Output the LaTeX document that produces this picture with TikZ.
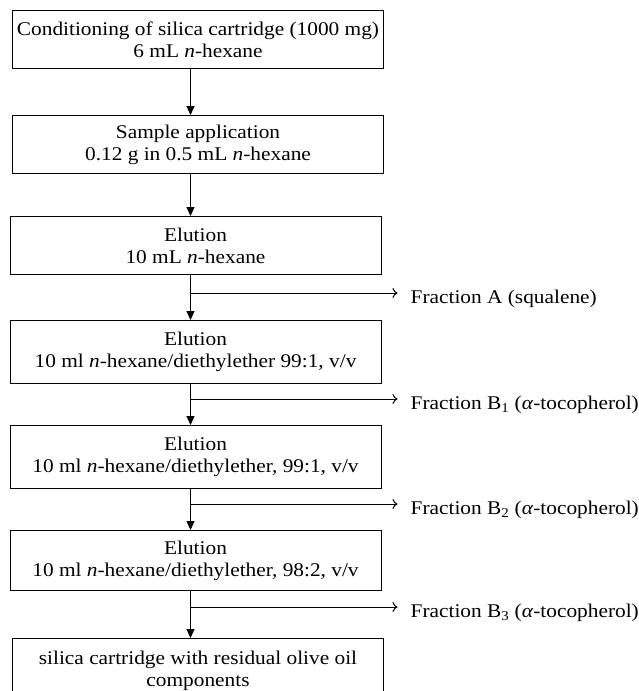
\documentclass[tikz,border=0pt]{standalone}
\usepackage{fontspec}
\setmainfont{Liberation Serif}[FakeStretch=1.1]
\usetikzlibrary{arrows.meta,positioning}

\begin{document}
\begin{tikzpicture}[
  every node/.style={font=\fontsize{19.4}{22}\selectfont},
  box/.style ={draw, line width=1pt, minimum width=371pt, minimum height=58pt,
               align=center, inner sep=0pt},
  tall/.style={box, minimum height=63pt},
  ar/.style  ={-{Triangle[length=9pt,width=8pt]}, line width=1pt},
  br/.style  ={-{Computer Modern Rightarrow[length=5pt,width=10pt]}, line width=1pt},
  fr/.style  ={anchor=base west, inner sep=0pt}
]
  \useasboundingbox (0,0) rectangle (638pt,-691pt);
  \coordinate (trunk) at (190.5pt,0);
  \node[box, anchor=north west] (cond) at (12pt,-10pt)
    {Conditioning of silica cartridge (1000 mg)\\6 mL \textit{n}-hexane};
  \node[box, below=46pt of cond] (samp)
    {Sample application\\0.12 g in 0.5 mL \textit{n}-hexane};
  \node[box, below=42pt of samp, xshift=-2.5pt] (el1)
    {Elution\\10 mL \textit{n}-hexane};
  \node[tall, below=45pt of el1] (el2)
    {Elution\\10 ml \textit{n}-hexane/diethylether 99:1, v/v};
  \node[tall, below=41pt of el2] (el3)
    {Elution\\10 ml \textit{n}-hexane/diethylether, 99:1, v/v};
  \node[box, minimum height=60pt, below=41pt of el3] (el4)
    {Elution\\10 ml \textit{n}-hexane/diethylether, 98:2, v/v};
  \node[box, minimum height=64pt, below=47pt of el4, xshift=2.5pt] (rest)
    {silica cartridge with residual olive oil\\components};

  % main column
  \draw[ar] (cond.south -| trunk) -- (samp.north -| trunk);
  \draw[ar] (samp.south -| trunk) -- (el1.north -| trunk);
  \draw[ar] (el1.south -| trunk) -- (el2.north -| trunk);
  \draw[ar] (el2.south -| trunk) -- (el3.north -| trunk);
  \draw[ar] (el3.south -| trunk) -- (el4.north -| trunk);
  \draw[ar] (el4.south -| trunk) -- (rest.north -| trunk);

  % fractions
  \coordinate (ta) at ([yshift=-18pt]el1.south -| trunk);
  \coordinate (tb1) at ([yshift=-15pt]el2.south -| trunk);
  \coordinate (tb2) at ([yshift=-15pt]el3.south -| trunk);
  \coordinate (tb3) at ([yshift=-16pt]el4.south -| trunk);
  \node[fr] (fa)  at ([xshift=220pt,yshift=-10pt]ta)  {Fraction A (squalene)};
  \node[fr] (fb1) at ([xshift=220pt,yshift=-10pt]tb1) {Fraction B\textsubscript{1} (\textit{α}-tocopherol)};
  \node[fr] (fb2) at ([xshift=220pt,yshift=-10pt]tb2) {Fraction B\textsubscript{2} (\textit{α}-tocopherol)};
  \node[fr] (fb3) at ([xshift=220pt,yshift=-10pt]tb3) {Fraction B\textsubscript{3} (\textit{α}-tocopherol)};
  \draw[br] (ta)  -- ([xshift=-13pt]fa.west |- ta);
  \draw[br] (tb1) -- ([xshift=-13pt]fb1.west |- tb1);
  \draw[br] (tb2) -- ([xshift=-13pt]fb2.west |- tb2);
  \draw[br] (tb3) -- ([xshift=-13pt]fb3.west |- tb3);
\end{tikzpicture}
\end{document}
